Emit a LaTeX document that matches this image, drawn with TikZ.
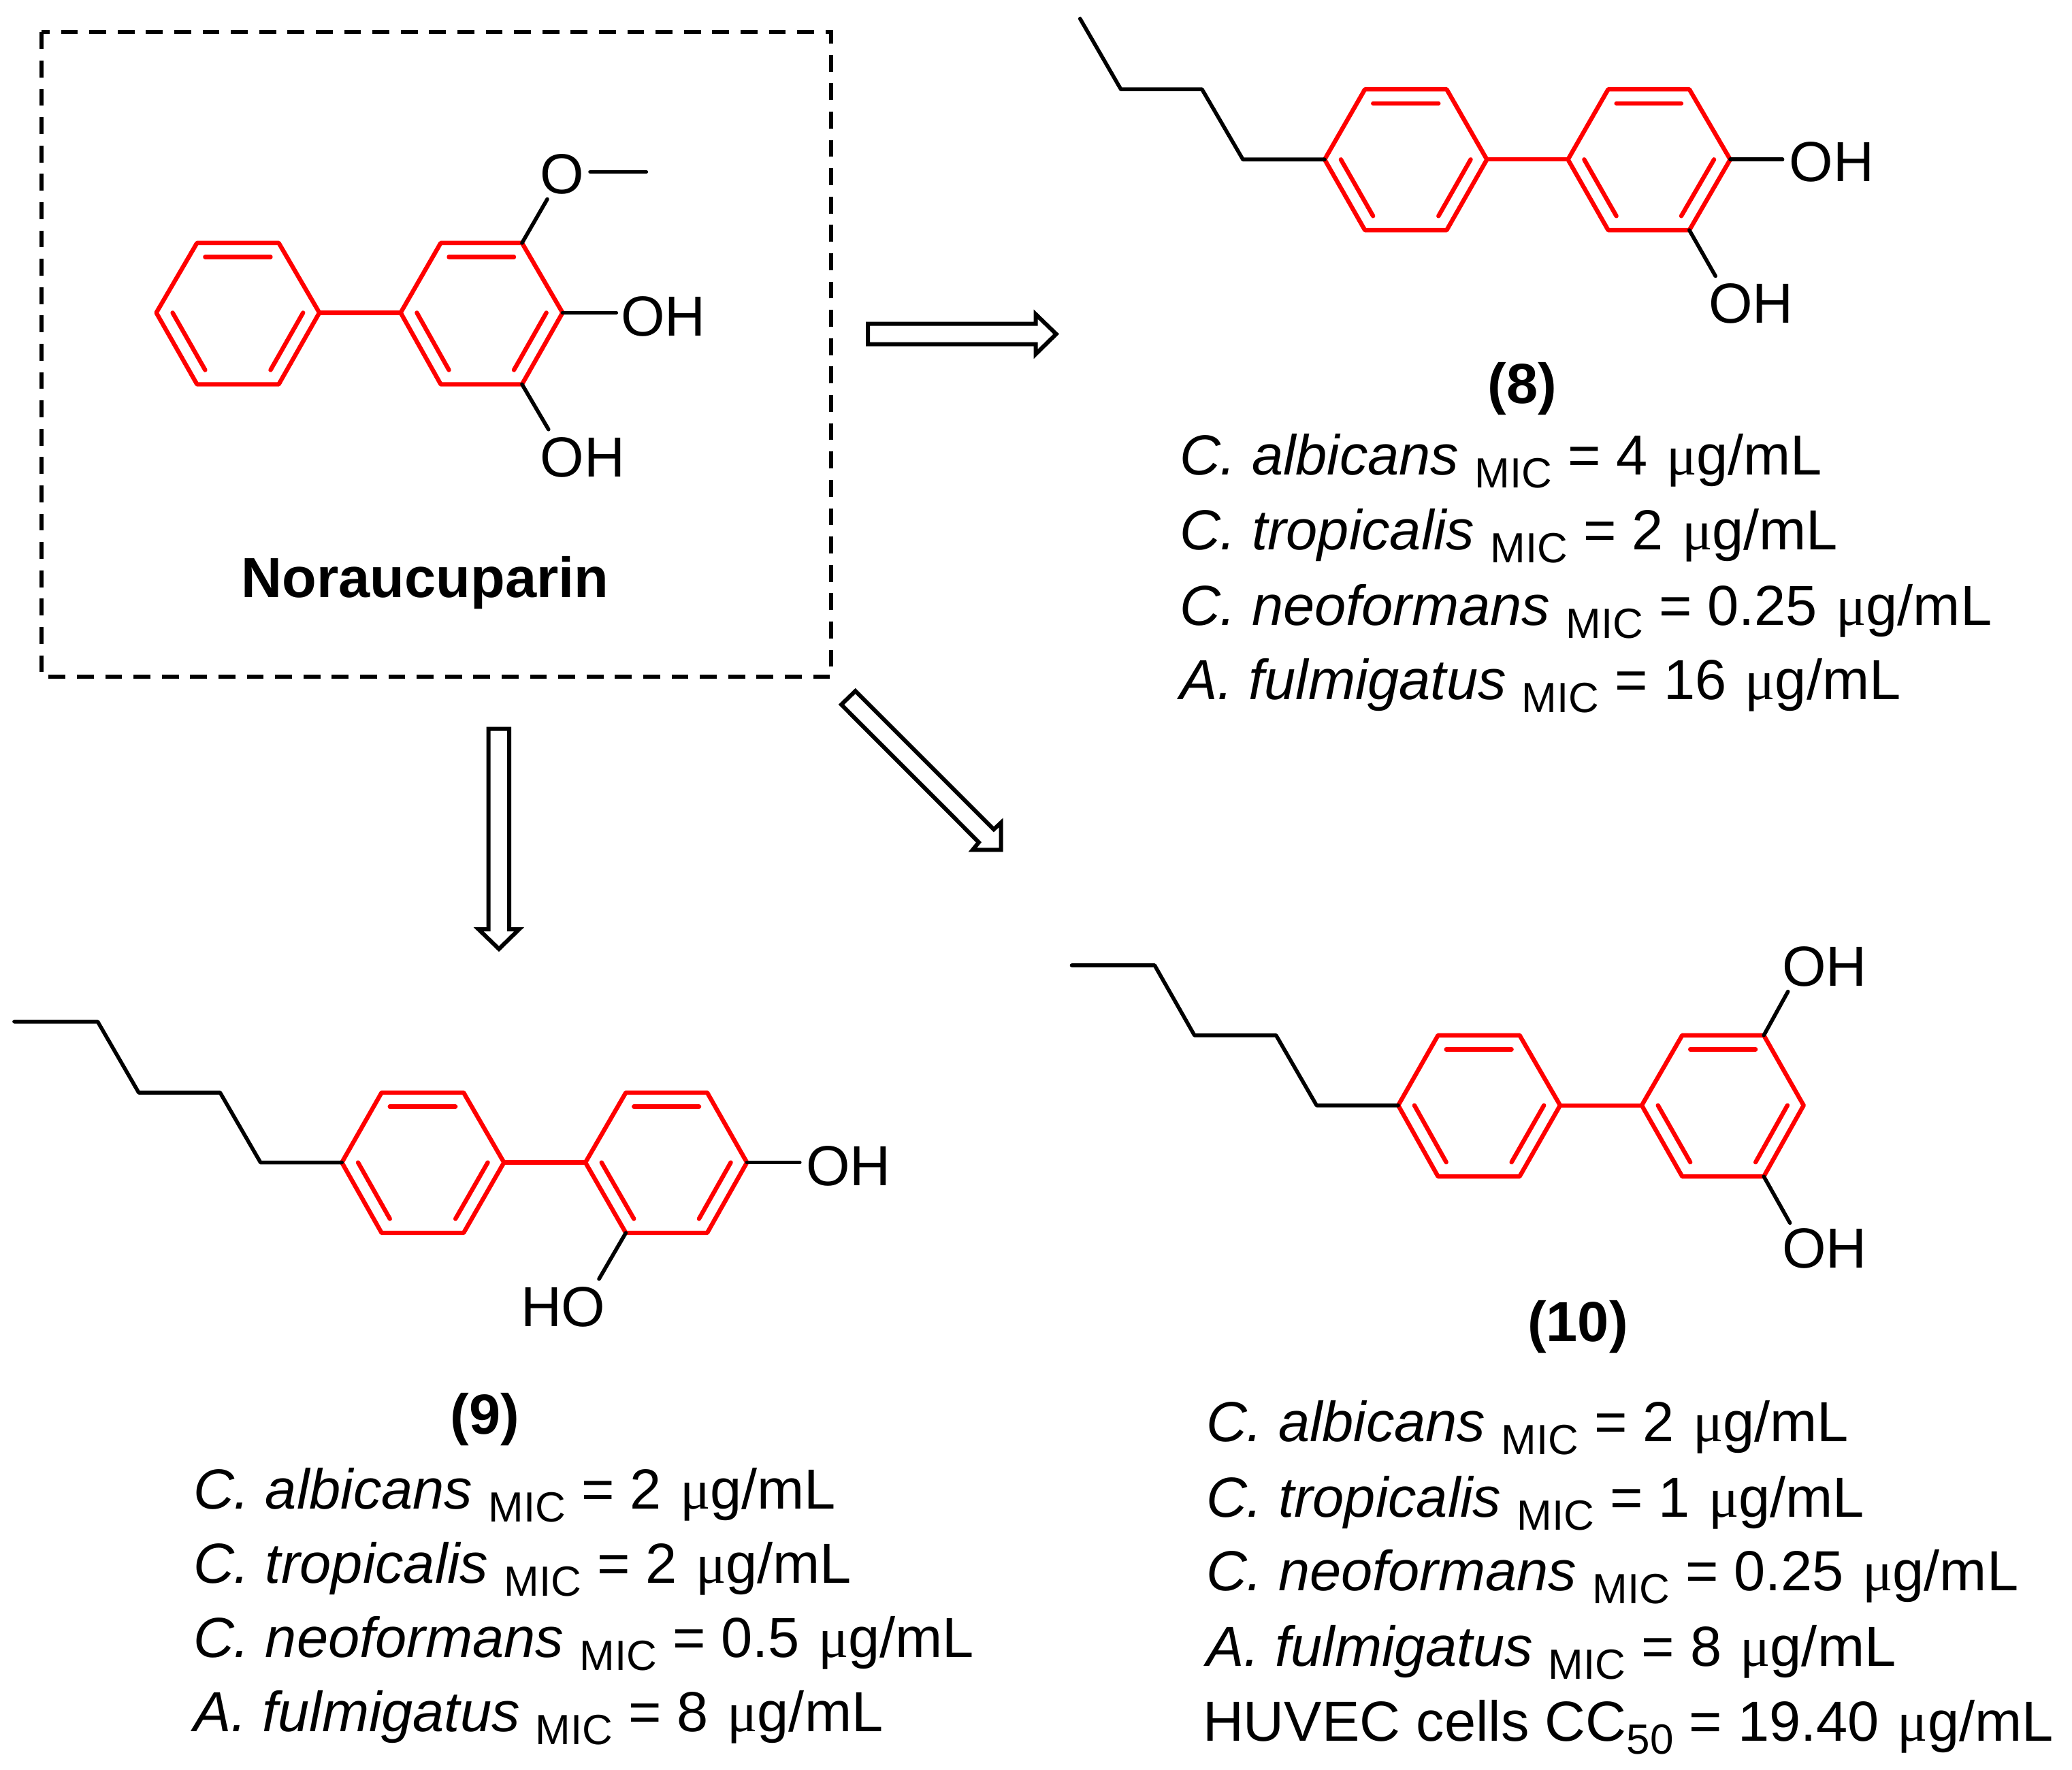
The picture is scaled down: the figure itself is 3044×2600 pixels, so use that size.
\documentclass[tikz,border=0pt]{standalone}
\usepackage{fontspec}
\usetikzlibrary{calc}
\setmainfont{Liberation Sans}
\newfontfamily\mufont{Liberation Serif}
\definecolor{ringred}{RGB}{255,0,0}
\newcommand{\subsz}[1]{\raisebox{-4.75pt}{\fontsize{15.5}{17}\selectfont\upshape #1}}
\newcommand{\ugml}{\hspace{1pt}{\mufont μ}g/mL}
\newcommand{\micline}[2]{{\itshape #1} \subsz{MIC} = #2 \ugml}
\tikzset{
  bondk/.style={draw=black,line width=1.4pt,line cap=round,line join=round},
  bondr/.style={draw=ringred,line width=1.6pt,line cap=round,line join=round},
  hollow/.style={draw=black,fill=white,line width=1.5pt,line join=miter},
  dashbox/.style={draw=black,line width=1.5pt,dash pattern=on 6.2pt off 4.2pt},
  atom/.style={anchor=base west,inner sep=0pt,outer sep=0pt,font=\fontsize{20.75}{24}\selectfont},
  txt/.style={anchor=base west,inner sep=0pt,outer sep=0pt,font=\fontsize{20.75}{24}\selectfont},
  cname/.style={anchor=base,inner sep=0pt,outer sep=0pt,font=\fontsize{20.75}{24}\selectfont\bfseries}
}
% name, x1..x4, ytop, ymid, ybot
\newcommand{\ringat}[8]{%
  \coordinate (#1a) at (#2,#7);
  \coordinate (#1b) at (#3,#6);
  \coordinate (#1c) at (#4,#6);
  \coordinate (#1d) at (#5,#7);
  \coordinate (#1e) at (#4,#8);
  \coordinate (#1f) at (#3,#8);
  \coordinate (#1m) at ($(#1a)!0.5!(#1d)$);
  \draw[bondr] (#1a) -- (#1b) -- (#1c) -- (#1d) -- (#1e) -- (#1f) -- cycle;
  \draw[bondr] ($(#1m)!0.8!(#1b)$) -- ($(#1m)!0.8!(#1c)$);
  \draw[bondr] ($(#1m)!0.8!(#1a)$) -- ($(#1m)!0.8!(#1f)$);
  \draw[bondr] ($(#1m)!0.8!(#1d)$) -- ($(#1m)!0.8!(#1e)$);
}
\begin{document}
\begin{tikzpicture}[x=0.25pt,y=-0.25pt]
\useasboundingbox (0,0) rectangle (3044,2600);
% frame
\coordinate (fa) at (61.4,47.5);
\coordinate (fb) at (1221,994.4);
\draw[dashbox] (fa) rectangle (fb);
% Noraucuparin
\ringat{na}{229.6}{289.4}{409.5}{469.2}{356.9}{459.4}{564.5}
\ringat{nb}{588.6}{647.5}{766.9}{826.5}{356.9}{459.4}{564.5}
\draw[bondr] (nad) -- (nba);
\coordinate (nom) at (804,292.6);
\coordinate (nme1) at (867,252.5);
\coordinate (nme2) at (949.3,252.5);
\coordinate (noh1) at (905.3,459.4);
\coordinate (noh2) at (805.8,630.8);
\draw[bondk] (nbc) -- (nom);
\draw[bondk] (nme1) -- (nme2);
\draw[bondk] (nbd) -- (noh1);
\draw[bondk] (nbe) -- (noh2);
\node[atom] (nO) at (793.5,285) {O};
\node[atom] (nOHa) at (912,494) {OH};
\node[atom] (nOHb) at (793.5,700.5) {OH};
\node[cname] (nlab) at (624.7,877) {Noraucuparin};
% arrows
\draw[hollow] (1275,475.7) -- (1521.7,475.7) -- (1521.7,461.7) -- (1551.7,490.7) -- (1521.7,520) -- (1521.7,505.7) -- (1275,505.7) -- cycle;
\draw[hollow] (717.7,1070.7) -- (748,1070.7) -- (748,1365) -- (762.7,1365) -- (733,1394) -- (703,1365) -- (717.7,1365) -- cycle;
\draw[hollow] (1256.7,1015) -- (1460,1218.3) -- (1470.7,1208.3) -- (1470.7,1248.3) -- (1429,1248.3) -- (1438,1237.3) -- (1236,1035) -- cycle;
% compound 8
\ringat{ea}{1946}{2005.2}{2125.3}{2184.4}{131.2}{234.3}{338.1}
\ringat{eb}{2303.5}{2362.6}{2481.8}{2541.9}{131.2}{234.3}{338.1}
\draw[bondr] (ead) -- (eba);
\coordinate (ec1) at (1586.7,27.4);
\coordinate (ec2) at (1646.7,131.2);
\coordinate (ec3) at (1765.9,131.2);
\coordinate (ec4) at (1826,234.3);
\draw[bondk] (ec1) -- (ec2) -- (ec3) -- (ec4) -- (eaa);
\coordinate (eoh1) at (2618.6,234.3);
\coordinate (eoh2) at (2520.2,405.5);
\draw[bondk] (ebd) -- (eoh1);
\draw[bondk] (ebe) -- (eoh2);
\node[atom] (eOHa) at (2628.5,266.6) {OH};
\node[atom] (eOHb) at (2510,474.2) {OH};
\node[cname] (elab) at (2236.6,592.8) {(8)};
\node[txt] (et1) at (1733,698) {\micline{C. albicans}{4}};
\node[txt] (et2) at (1733,808) {\micline{C. tropicalis}{2}};
\node[txt] (et3) at (1733,918.3) {\micline{C. neoformans}{0.25}};
\node[txt] (et4) at (1733,1027.7) {\micline{A. fulmigatus}{16}};
% compound 9
\ringat{ga}{502.2}{560.6}{681.1}{740.4}{1605}{1707.6}{1811}
\ringat{gb}{860}{919.4}{1039}{1097.3}{1605}{1707.6}{1811}
\draw[bondr] (gad) -- (gba);
\coordinate (gc1) at (21,1500.7);
\coordinate (gc2) at (143.5,1500.7);
\coordinate (gc3) at (203.8,1605);
\coordinate (gc4) at (323.4,1605);
\coordinate (gc5) at (382.7,1707.6);
\draw[bondk] (gc1) -- (gc2) -- (gc3) -- (gc4) -- (gc5) -- (gaa);
\coordinate (goh1) at (1174.8,1707.6);
\coordinate (goh2) at (880,1878.7);
\draw[bondk] (gbd) -- (goh1);
\draw[bondk] (gbf) -- (goh2);
\node[atom] (gOH) at (1184,1741.4) {OH};
\node[atom] (gHO) at (765,1948.4) {HO};
\node[cname] (glab) at (712.7,2106.6) {(9)};
\node[txt] (gt1) at (284,2216) {\micline{C. albicans}{2}};
\node[txt] (gt2) at (284,2325.4) {\micline{C. tropicalis}{2}};
\node[txt] (gt3) at (284,2434) {\micline{C. neoformans}{0.5}};
\node[txt] (gt4) at (284,2543.3) {\micline{A. fulmigatus}{8}};
% compound 10
\ringat{ta}{2054.1}{2112.6}{2232.5}{2292}{1520.8}{1623.7}{1728.1}
\ringat{tb}{2411.9}{2471.3}{2591.2}{2649.7}{1520.8}{1623.7}{1728.1}
\draw[bondr] (tad) -- (tba);
\coordinate (tc1) at (1574.5,1418);
\coordinate (tc2) at (1696.3,1418);
\coordinate (tc3) at (1754.8,1520.8);
\coordinate (tc4) at (1874.7,1520.8);
\coordinate (tc5) at (1934.2,1623.7);
\draw[bondk] (tc1) -- (tc2) -- (tc3) -- (tc4) -- (tc5) -- (taa);
\coordinate (toh1) at (2626.7,1456.5);
\coordinate (toh2) at (2629.6,1796.4);
\draw[bondk] (tbc) -- (toh1);
\draw[bondk] (tbe) -- (toh2);
\node[atom] (tOHa) at (2618,1448.5) {OH};
\node[atom] (tOHb) at (2618,1862.3) {OH};
\node[cname] (tlab) at (2317.9,1970.8) {(10)};
\node[txt] (tt1) at (1772,2117.9) {\micline{C. albicans}{2}};
\node[txt] (tt2) at (1772,2228) {\micline{C. tropicalis}{1}};
\node[txt] (tt3) at (1772,2336.5) {\micline{C. neoformans}{0.25}};
\node[txt] (tt4) at (1772,2447.4) {\micline{A. fulmigatus}{8}};
\node[txt] (tt5) at (1767,2557.4) {HUVEC cells CC\subsz{50} = 19.40 \ugml};
\end{tikzpicture}
\end{document}
